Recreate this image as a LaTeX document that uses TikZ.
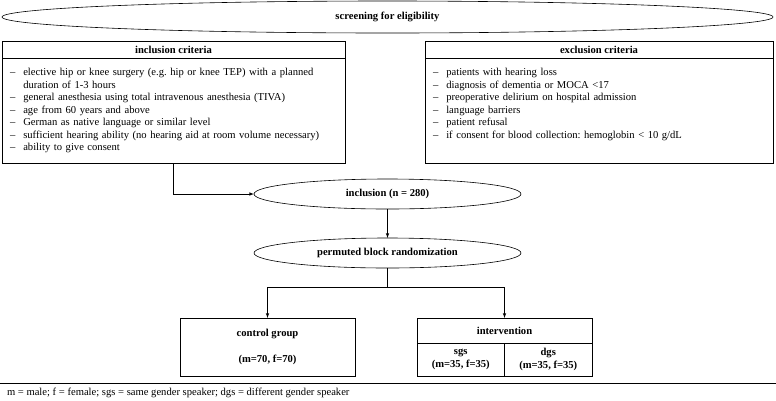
\documentclass[tikz,border=0pt]{standalone}
\usepackage{fontspec}
\setmainfont{Liberation Serif}
\usepackage{xcolor}
\usetikzlibrary{shapes,arrows,positioning}
\frenchspacing

\begin{document}
\begin{tikzpicture}[
    x=1pt, y=-1pt,
    every node/.style={font=\fontsize{10.6}{12.5}\selectfont, outer sep=0pt},
    oval/.style={draw, ellipse, inner sep=0pt, font=\fontsize{10.6}{12.5}\selectfont\bfseries},
    head/.style={draw, minimum height=17pt, inner sep=0pt, font=\fontsize{10.6}{12.5}\selectfont\bfseries},
    body/.style={draw, text width=327pt, inner xsep=8pt, inner ysep=9pt, align=left},
    group/.style={draw, align=center, inner sep=0pt, font=\fontsize{10.6}{12.5}\selectfont\bfseries},
    arrow/.style={->, >=latex, line width=0.6pt},
    line width=0.6pt
]
    \useasboundingbox (0,0) rectangle (776,400);

    % Screening
    \node[oval, minimum width=771pt, minimum height=32pt] (screen) at (387.5,17) {screening for eligibility};

    % Inclusion criteria
    \node[head, minimum width=343pt, anchor=north west] (inclhead) at (2,41) {inclusion criteria};
    \node[body, below=0pt of inclhead] (inclbody) {%
        \begin{tabular}{@{}l@{\hspace{8pt}}l@{}}
        -- & elective hip or knee surgery (e.g. hip or knee TEP) with a planned\\
           & duration of 1-3 hours\\
        -- & general anesthesia using total intravenous anesthesia (TIVA)\\
        -- & age from 60 years and above\\
        -- & German as native language or similar level\\
        -- & sufficient hearing ability (no hearing aid at room volume necessary)\\
        -- & ability to give consent
        \end{tabular}};

    % Exclusion criteria
    \node[head, minimum width=348pt, anchor=north west] (exclhead) at (425,41) {exclusion criteria};
    \node[body, text width=332pt, below=0pt of exclhead] (exclbody) {%
        \begin{tabular}{@{}l@{\hspace{8pt}}l@{}}
        -- & patients with hearing loss\\
        -- & diagnosis of dementia or MOCA <17\\
        -- & preoperative delirium on hospital admission\\
        -- & language barriers\\
        -- & patient refusal\\
        -- & if consent for blood collection: hemoglobin < 10 g/dL\\
           & 
        \end{tabular}};

    % Inclusion and randomization
    \node[oval, minimum width=267pt, minimum height=30pt] (inclusion) at (387.5,194) {inclusion (n = 280)};
    \node[oval, minimum width=267pt, minimum height=30pt, below=29pt of inclusion] (random) {permuted block randomization};
    \coordinate[below=19pt of random] (split);

    % Groups
    \node[group, minimum width=175pt, minimum height=58pt, anchor=north] (control) at (267.5,318) {control group\\[13pt](m=70, f=70)};
    \node[head, minimum width=175pt, minimum height=25pt, anchor=north] (intervhead) at (504.5,318) {intervention};
    \node[group, minimum width=87.5pt, minimum height=33pt, below right=0pt of intervhead.south west] (sgs) {sgs\\(m=35, f=35)};
    \node[group, minimum width=87.5pt, minimum height=33pt, below left=0pt of intervhead.south east] (dgs) {dgs\\(m=35, f=35)};

    % Arrows
    \draw[arrow] (inclbody.south) |- (inclusion.west);
    \draw[arrow] (inclusion) -- (random);
    \draw (random) -- (split);
    \draw[arrow] (split) -| (control.north);
    \draw[arrow] (split) -| (intervhead.north);

    % Legend
    \draw (0,383) -- (776,383);
    \node[anchor=west, inner sep=0pt] (legend) at (7,393) {m = male; f = female; sgs = same gender speaker; dgs = different gender speaker};

\end{tikzpicture}
\end{document}
